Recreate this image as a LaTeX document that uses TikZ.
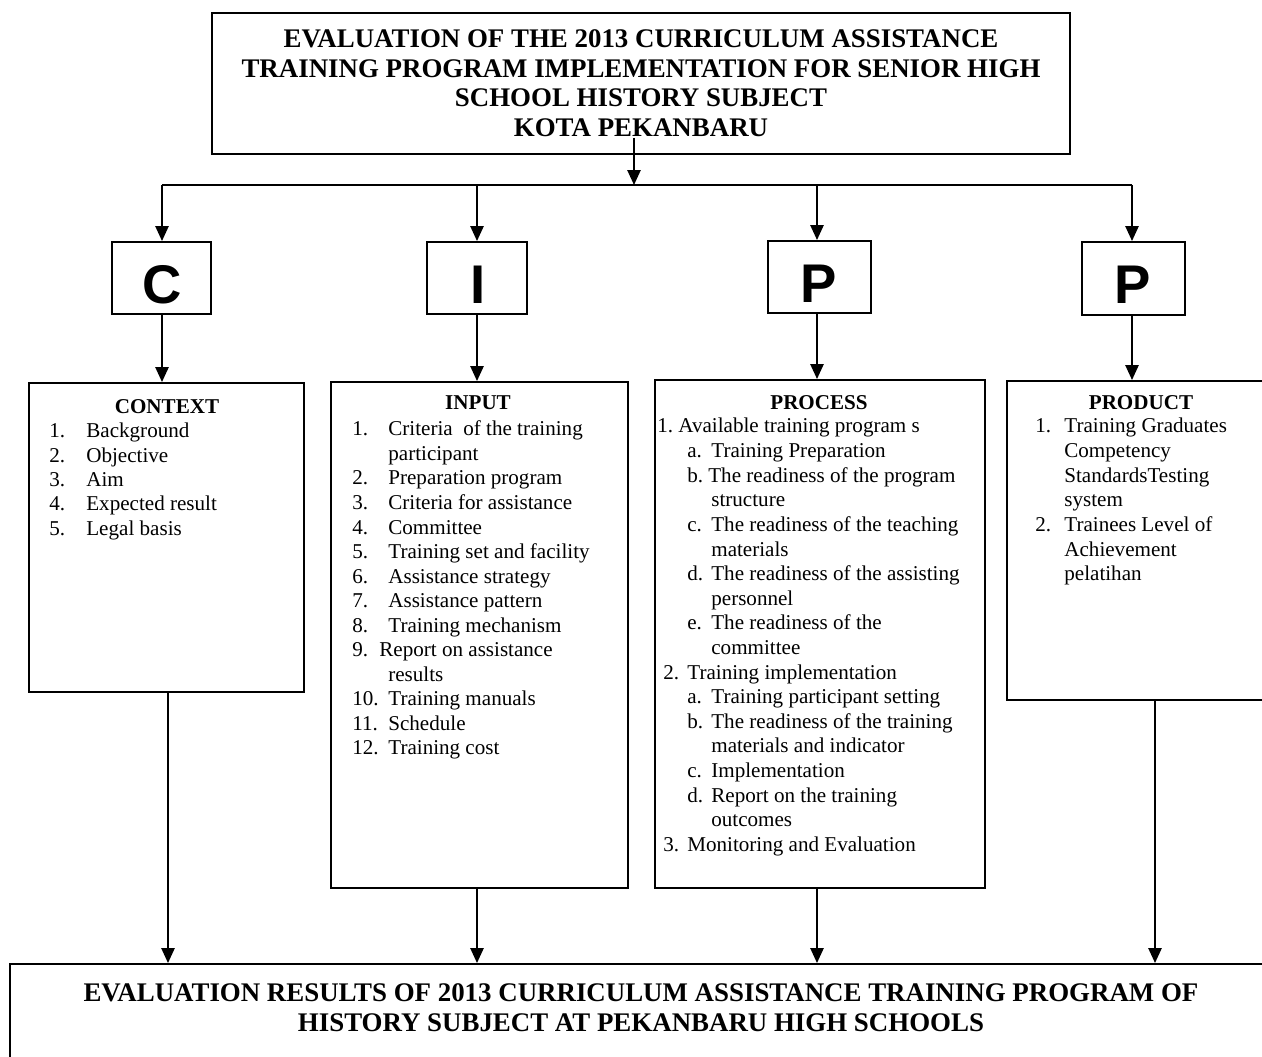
\documentclass[tikz,border=0pt]{standalone}
\usepackage{fontspec}
\setmainfont{Liberation Serif}
\setsansfont{Liberation Sans}
\usetikzlibrary{arrows.meta,fit}
\newcommand{\iline}[6]{%
  \node[txt] (#1n) at (#2,#4) {#5};
  \node[txt] (#1t) at (#3,#4) {#6};}
\newcommand{\contline}[4]{\node[txt] (#1) at (#2,#3) {#4};}
\begin{document}
\begin{tikzpicture}[x=0.2mm,y=-0.2mm,
  box/.style={draw, line width=1.1pt, inner sep=0pt},
  arr/.style={-{Triangle[length=8.5pt,width=7.5pt]}, line width=1.1pt},
  line/.style={line width=1.1pt},
  txt/.style={anchor=base west, inner sep=0pt, font=\fontsize{12}{14}\selectfont},
  head/.style={anchor=base, inner sep=0pt, font=\fontsize{12}{14}\selectfont\bfseries},
  title/.style={anchor=base, inner sep=0pt, font=\fontsize{15.3}{18}\selectfont\bfseries},
  letter/.style={anchor=base, inner sep=0pt, font=\fontsize{31}{36}\selectfont\sffamily\bfseries}]
\clip (0,0) rectangle (1262,1057);
\fill[white] (0,0) rectangle (1262,1057);

% top box
\node[box, fit={(212,13) (1070,154)}] (top) {};
\node[title] (t1) at (641,48) {EVALUATION OF THE 2013 CURRICULUM ASSISTANCE};
\node[title] (t2) at (641,77.5) {TRAINING PROGRAM IMPLEMENTATION FOR SENIOR HIGH};
\node[title] (t3) at (641,107) {SCHOOL HISTORY SUBJECT};
\node[title] (t4) at (641,137) {KOTA PEKANBARU};

% letter boxes
\node[box, fit={(112,242) (211,314)}] (bC) {};
\node[box, fit={(427,242) (527,314)}] (bI) {};
\node[box, fit={(768,241) (871,313)}] (bP) {};
\node[box, fit={(1082,242) (1185,315)}] (bQ) {};
\node[letter] (lC) at (162,304) {C};
\node[letter] (lI) at (478,304) {I};
\node[letter] (lP) at (819,303) {P};
\node[letter] (lQ) at (1133,304) {P};

% lower boxes
\node[box, fit={(29,383) (304,692)}] (ctx) {};
\node[box, fit={(331,382) (628,888)}] (inp) {};
\node[box, fit={(655,380) (985,888)}] (pro) {};
\node[box, fit={(1007,381) (1280,700)}] (prd) {};
\node[box, fit={(10,964) (1280,1080)}] (res) {};

% connectors
\coordinate (ts) at (634,138);
\coordinate (tj) at (634,185);
\coordinate (bl) at (162,185);
\coordinate (br) at (1132,185);
\draw[arr] (ts) -- (tj);
\draw[line] (bl) -- (br);
\coordinate (xC) at (162,0);
\coordinate (xI) at (477,0);
\coordinate (xP) at (817,0);
\coordinate (xQ) at (1132,0);
\draw[arr] (xC |- bl) -- (xC |- bC.north);
\draw[arr] (xI |- bl) -- (xI |- bI.north);
\draw[arr] (xP |- bl) -- (xP |- bP.north);
\draw[arr] (xQ |- bl) -- (xQ |- bQ.north);
\draw[arr] (xC |- bC.south) -- (xC |- ctx.north);
\draw[arr] (xI |- bI.south) -- (xI |- inp.north);
\draw[arr] (xP |- bP.south) -- (xP |- pro.north);
\draw[arr] (xQ |- bQ.south) -- (xQ |- prd.north);
\coordinate (yC) at (168,0);
\coordinate (yQ) at (1155,0);
\draw[arr] (yC |- ctx.south) -- (yC |- res.north);
\draw[arr] (xI |- inp.south) -- (xI |- res.north);
\draw[arr] (xP |- pro.south) -- (xP |- res.north);
\draw[arr] (yQ |- prd.south) -- (yQ |- res.north);

% context
\node[head] (hC) at (167,414) {CONTEXT};
\iline{c1}{49}{86}{438}{1.}{Background}
\iline{c2}{49}{86}{462.3}{2.}{Objective}
\iline{c3}{49}{86}{486.6}{3.}{Aim}
\iline{c4}{49}{86}{510.9}{4.}{Expected result}
\iline{c5}{49}{86}{535.2}{5.}{Legal basis}

% input
\node[head] (hI) at (478,410) {INPUT};
\iline{i1}{352}{388}{436}{1.}{Criteria\ \ of the training}
\contline{i1b}{388}{460.5}{participant}
\iline{i2}{352}{388}{485}{2.}{Preparation program}
\iline{i3}{352}{388}{509.5}{3.}{Criteria for assistance}
\iline{i4}{352}{388}{534}{4.}{Committee}
\iline{i5}{352}{388}{558.5}{5.}{Training set and facility}
\iline{i6}{352}{388}{583}{6.}{Assistance strategy}
\iline{i7}{352}{388}{607.5}{7.}{Assistance pattern}
\iline{i8}{352}{388}{632}{8.}{Training mechanism}
\iline{i9}{352}{379}{656.5}{9.}{Report on assistance}
\contline{i9b}{388}{681}{results}
\iline{i10}{352}{388}{705.5}{10.}{Training manuals}
\iline{i11}{352}{388}{730}{11.}{Schedule}
\iline{i12}{352}{388}{754.5}{12.}{Training cost}

% process
\node[head] (hP) at (819,410) {PROCESS};
\iline{p1}{657}{678}{433}{1.}{Available training program s}
\iline{p1a}{687}{711}{457.6}{a.}{Training Preparation}
\iline{p1b}{687}{708}{482.2}{b.}{The readiness of the program}
\contline{p1bb}{711}{506.8}{structure}
\iline{p1c}{687}{711}{531.4}{c.}{The readiness of the teaching}
\contline{p1cb}{711}{556}{materials}
\iline{p1d}{687}{711}{580.6}{d.}{The readiness of the assisting}
\contline{p1db}{711}{605.2}{personnel}
\iline{p1e}{687}{711}{629.8}{e.}{The readiness of the}
\contline{p1eb}{711}{654.4}{committee}
\iline{p2}{663}{687}{679}{2.}{Training implementation}
\iline{p2a}{687}{711}{703.6}{a.}{Training participant setting}
\iline{p2b}{687}{711}{728.2}{b.}{The readiness of the training}
\contline{p2bb}{711}{752.8}{materials and indicator}
\iline{p2c}{687}{711}{777.4}{c.}{Implementation}
\iline{p2d}{687}{711}{802}{d.}{Report on the training}
\contline{p2db}{711}{826.6}{outcomes}
\iline{p3}{663}{687}{851.2}{3.}{Monitoring and Evaluation}

% product
\node[head] (hQ) at (1141,410) {PRODUCT};
\iline{q1}{1035}{1064}{433}{1.}{Training Graduates}
\contline{q1b}{1064}{457.6}{Competency}
\contline{q1c}{1064}{482.2}{StandardsTesting}
\contline{q1d}{1064}{506.8}{system}
\iline{q2}{1035}{1064}{531.4}{2.}{Trainees Level of}
\contline{q2b}{1064}{556}{Achievement}
\contline{q2c}{1064}{580.6}{pelatihan}

% result
\node[title] (r1) at (641,1001) {EVALUATION RESULTS OF 2013 CURRICULUM ASSISTANCE TRAINING PROGRAM OF};
\node[title] (r2) at (641,1031) {HISTORY SUBJECT AT PEKANBARU HIGH SCHOOLS};
\end{tikzpicture}
\end{document}
